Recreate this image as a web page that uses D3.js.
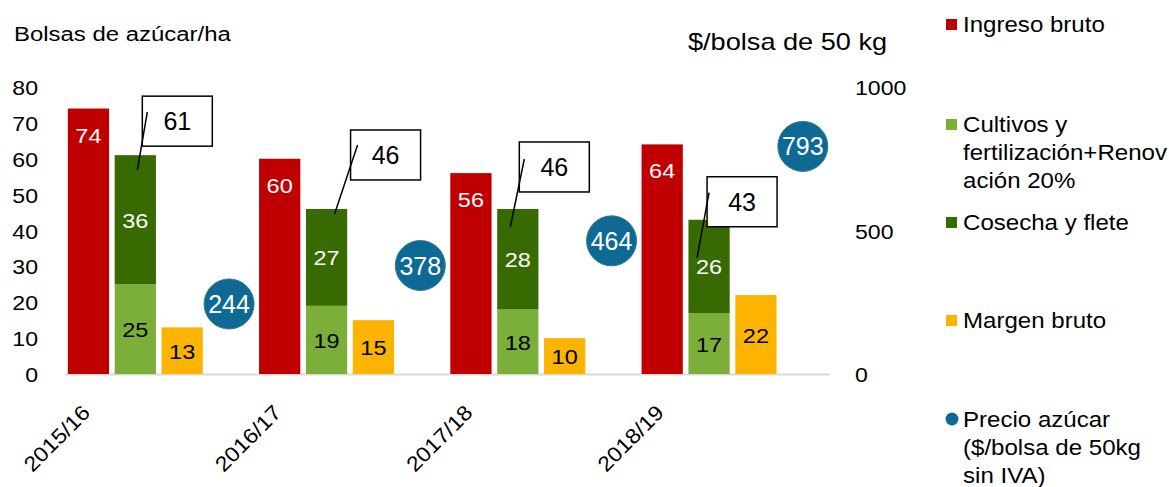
<!DOCTYPE html>
<html>
<head>
<meta charset="utf-8">
<script src="https://cdn.jsdelivr.net/npm/d3@7"></script>
<style>
  body { margin: 0; background: #fff; }
  svg { display: block; font-family: "Liberation Sans", Arial, sans-serif; }
</style>
</head>
<body>
<div id="chart"></div>
<script>
// data
const years = ["2015/16", "2016/17", "2017/18", "2018/19"];
const ingreso = [74, 60, 56, 64];
const cultivos = [25, 19, 18, 17];
const cosecha = [36, 27, 28, 26];
const margen = [13, 15, 10, 22];
const precio = [244, 378, 464, 793];
const leftTicks = [0, 10, 20, 30, 40, 50, 60, 70, 80];
const rightTicks = [0, 500, 1000];

// hand placed callout boxes (offset from top centre of the stacked bar)
const boxOffset = [[7, -59], [24, -79], [1.5, -67], [-2, -43]];
const lineStart = [[5, 16], [7, 15], [5, 17], [2, 16]];
const lineEnd = [[2, 15], [8, 5], [-7.5, 18], [-12, 38]];

const colors = {
  ingreso: "#C00000",
  cultivos: "#7CAF3A",
  cosecha: "#376A00",
  margen: "#FDB400",
  precio: "#0E6A94"
};

const width = 1169, height = 487;
const margin = {top: 87, left: 65, right: 830, bottom: 374};

const svg = d3.select("#chart").append("svg")
  .attr("width", width)
  .attr("height", height);

// text is a bit wider than plain Arial in the original
function txt(g, x, y, s, size, sx, anchor = "start", fill = "#000") {
  return g.append("text")
    .attr("transform", `translate(${x},${y}) scale(${sx},1)`)
    .attr("text-anchor", anchor)
    .attr("font-size", size)
    .attr("fill", fill)
    .text(s);
}

const x0 = d3.scaleBand().domain(years).range([margin.left, margin.right]);
const x1 = d3.scaleBand()
  .domain(["ingreso", "costos", "margen", "precio"])
  .range([0, x0.bandwidth()])
  .paddingInner(0.12).paddingOuter(0.1).align(0.3);
const y = d3.scaleLinear().domain([0, 80]).range([margin.bottom, margin.top]);
const y2 = d3.scaleLinear().domain([0, 1000]).range([margin.bottom, margin.top]);
const bw = x1.bandwidth();

// titles
txt(svg, 14, 41, "Bolsas de azúcar/ha", 21, 1.14);
txt(svg, 688, 50, "$/bolsa de 50 kg", 23, 1.18);

// axis tick labels
leftTicks.forEach(t => txt(svg, 38, y(t) + 8, t, 21, 1.1, "end"));
rightTicks.forEach(t => txt(svg, 855, y2(t) + 8, t, 21, 1.1, "start"));

// baseline
svg.append("line")
  .attr("x1", margin.left).attr("x2", margin.right)
  .attr("y1", y(0) + 0.5).attr("y2", y(0) + 0.5)
  .attr("stroke", "#D9D9D9").attr("stroke-width", 2);

const groups = svg.append("g");

years.forEach((yr, i) => {
  const g = groups.append("g").attr("transform", `translate(${x0(yr)},0)`);

  // ingreso bruto
  g.append("rect")
    .attr("x", x1("ingreso")).attr("width", bw)
    .attr("y", y(ingreso[i])).attr("height", y(0) - y(ingreso[i]))
    .attr("fill", colors.ingreso);
  txt(g, x1("ingreso") + bw / 2, y(ingreso[i]) + 34, ingreso[i], 21, 1.12, "middle", "#fff");

  // costos apilados
  const total = cultivos[i] + cosecha[i];
  g.append("rect")
    .attr("x", x1("costos")).attr("width", bw)
    .attr("y", y(cultivos[i])).attr("height", y(0) - y(cultivos[i]))
    .attr("fill", colors.cultivos);
  g.append("rect")
    .attr("x", x1("costos")).attr("width", bw)
    .attr("y", y(total)).attr("height", y(cultivos[i]) - y(total))
    .attr("fill", colors.cosecha);
  txt(g, x1("costos") + bw / 2, (y(0) + y(cultivos[i])) / 2 + 8, cultivos[i], 21, 1.12, "middle", "#000");
  txt(g, x1("costos") + bw / 2, (y(cultivos[i]) + y(total)) / 2 + 8, cosecha[i], 21, 1.12, "middle", "#fff");

  // margen bruto
  g.append("rect")
    .attr("x", x1("margen")).attr("width", bw)
    .attr("y", y(margen[i])).attr("height", y(0) - y(margen[i]))
    .attr("fill", colors.margen);
  txt(g, x1("margen") + bw / 2, (y(0) + y(margen[i])) / 2 + 8, margen[i], 21, 1.12, "middle", "#000");

  // precio (eje derecho)
  const cx = x1("precio") + bw / 2;
  g.append("circle")
    .attr("cx", cx).attr("cy", y2(precio[i])).attr("r", 25)
    .attr("fill", colors.precio)
    .attr("stroke", "#2E7D8C").attr("stroke-width", 1);
  txt(g, cx, y2(precio[i]) + 9, precio[i], 25, 1.0, "middle", "#fff");

  // callout with the total cost
  const topX = x1("costos") + bw / 2, topY = y(total);
  const bx = topX + boxOffset[i][0], by = topY + boxOffset[i][1];
  g.append("rect")
    .attr("x", bx).attr("y", by).attr("width", 70).attr("height", 50)
    .attr("fill", "#fff").attr("stroke", "#000").attr("stroke-width", 1.5);
  g.append("line")
    .attr("x1", bx + lineStart[i][0]).attr("y1", by + lineStart[i][1])
    .attr("x2", topX + lineEnd[i][0]).attr("y2", topY + lineEnd[i][1])
    .attr("stroke", "#000").attr("stroke-width", 1.5);
  txt(g, bx + 35, by + 34, total, 25, 1.0, "middle", "#000");

  // category label
  g.append("text")
    .attr("transform", `translate(${x1("ingreso") + bw / 2 + 3},${y(0) + 40}) rotate(-45) scale(1.1,1)`)
    .attr("text-anchor", "end")
    .attr("font-size", 21)
    .text(yr);
});

// legend
const legend = [
  {key: "ingreso", lines: ["Ingreso bruto"], y: 32},
  {key: "cultivos", lines: ["Cultivos y", "fertilización+Renov", "ación 20%"], y: 132},
  {key: "cosecha", lines: ["Cosecha y flete"], y: 230},
  {key: "margen", lines: ["Margen bruto"], y: 328},
  {key: "precio", lines: ["Precio azúcar", "($/bolsa de 50kg", "sin IVA)"], y: 427}
];

const lg = svg.append("g");
legend.forEach(d => {
  if (d.key === "precio") {
    lg.append("circle").attr("cx", 952).attr("cy", d.y - 8).attr("r", 6.5).attr("fill", colors.precio);
  } else {
    lg.append("rect").attr("x", 946).attr("y", d.y - 13).attr("width", 11).attr("height", 11)
      .attr("fill", colors[d.key]);
  }
  d.lines.forEach((l, j) => txt(lg, 963, d.y + j * 28, l, 21.5, 1.12));
});
</script>
</body>
</html>
